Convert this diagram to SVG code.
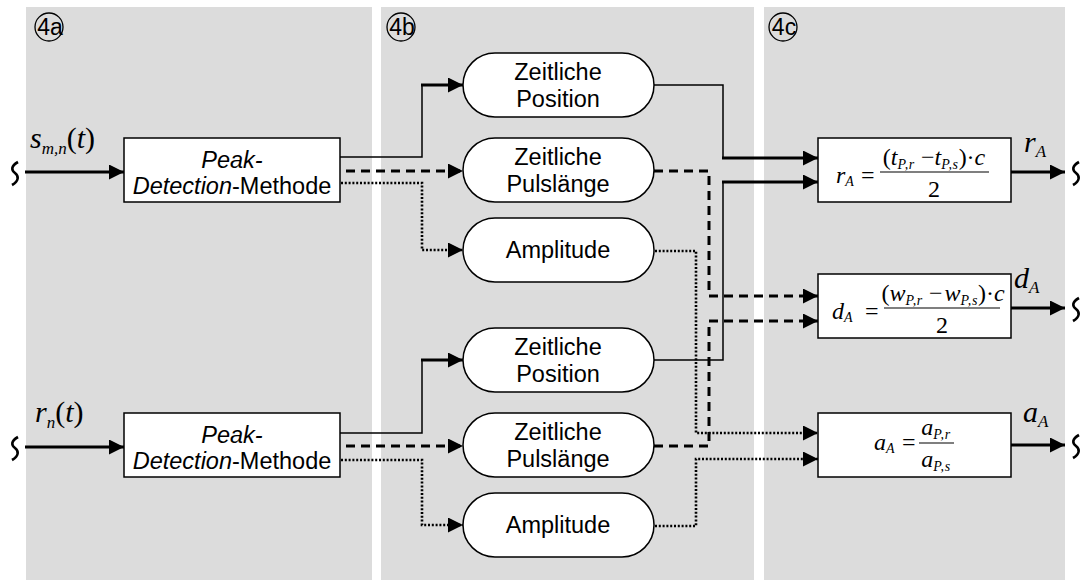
<svg xmlns="http://www.w3.org/2000/svg" xmlns:xlink="http://www.w3.org/1999/xlink" width="1083" height="580" viewBox="0 0 1083 580">
  <style>
    .panel { fill: #dcdcdc; }
    .mark { fill: none; stroke: #000; stroke-width: 1.3; }
    .marktxt { font-family: "Liberation Sans", Arial, sans-serif; font-size: 23px; text-anchor: middle; }
    .box { fill: #fff; stroke: #000; stroke-width: 1.5; }
    .lbl { font-family: "Liberation Sans", Arial, sans-serif; font-size: 23.5px; text-anchor: middle; }
    .it { font-style: italic; }
    .m { font-family: "Liberation Serif", "Times New Roman", serif; font-size: 24px; }
    .mo { font-family: "Liberation Serif", "Times New Roman", serif; font-size: 30px; }
    .i { font-style: italic; }
    .sub { font-size: 14px; font-style: italic; letter-spacing: 0.6px; }
    .subo { font-size: 17px; font-style: italic; }
    .thin { fill: none; stroke: #000; stroke-width: 1.5; }
    .thick { fill: none; stroke: #000; stroke-width: 3; }
    .dash { fill: none; stroke: #000; stroke-width: 3; stroke-dasharray: 9 6; }
    .dot { fill: none; stroke: #000; stroke-width: 2.6; stroke-dasharray: 2 1.8; }
    .frac { stroke: #000; stroke-width: 1.2; }
    .squig { fill: none; stroke: #000; stroke-width: 2.6; }
  </style>
  <defs>
    <marker id="arr" viewBox="0 0 15 15" refX="15" refY="7.5" markerWidth="15" markerHeight="15" markerUnits="userSpaceOnUse" orient="auto">
      <path d="M0,0 L15,7.5 L0,15 z" fill="#000"/>
    </marker>
    <path id="sq" d="M4,-11 C-3,-7 -3,-3 1,0 C5,3 5,8 -2,12"/>
  </defs>

  <!-- processing stages -->
  <g id="panels">
    <rect class="panel" x="26" y="7" width="346" height="573"/>
    <rect class="panel" x="381" y="7" width="373" height="573"/>
    <rect class="panel" x="764" y="7" width="301" height="573"/>
    <g id="mark-4a"><circle class="mark" cx="49" cy="27" r="14"/><text class="marktxt" x="50" y="35">4a</text></g>
    <g id="mark-4b"><circle class="mark" cx="401" cy="27" r="14"/><text class="marktxt" x="402" y="35">4b</text></g>
    <g id="mark-4c"><circle class="mark" cx="783" cy="27" r="14"/><text class="marktxt" x="784" y="35">4c</text></g>
  </g>

  <!-- inputs -->
  <g id="input-s">
    <use xlink:href="#sq" class="squig" transform="translate(14,173)"/>
    <text class="mo" x="30" y="148"><tspan class="i">s</tspan><tspan class="subo" dy="6">m,n</tspan><tspan dy="-6">(</tspan><tspan class="i">t</tspan>)</text>
  </g>
  <g id="input-r">
    <use xlink:href="#sq" class="squig" transform="translate(14,448)"/>
    <text class="mo" x="35" y="422"><tspan class="i">r</tspan><tspan class="subo" dy="6">n</tspan><tspan dy="-6">(</tspan><tspan class="i">t</tspan>)</text>
  </g>

  <!-- peak detection -->
  <g id="peak-1">
    <rect class="box" x="124" y="138" width="216" height="64"/>
    <text class="lbl" x="232" y="168"><tspan class="it">Peak-</tspan></text>
    <text class="lbl" x="232" y="194"><tspan class="it">Detection</tspan>-Methode</text>
  </g>
  <g id="peak-2">
    <rect class="box" x="124" y="413" width="216" height="64"/>
    <text class="lbl" x="232" y="443"><tspan class="it">Peak-</tspan></text>
    <text class="lbl" x="232" y="469"><tspan class="it">Detection</tspan>-Methode</text>
  </g>

  <!-- features -->
  <g id="pos-1">
    <rect class="box" x="463" y="53" width="191" height="64" rx="32"/>
    <text class="lbl" x="558" y="80">Zeitliche</text>
    <text class="lbl" x="558" y="107">Position</text>
  </g>
  <g id="len-1">
    <rect class="box" x="463" y="138" width="191" height="64" rx="32"/>
    <text class="lbl" x="558" y="165">Zeitliche</text>
    <text class="lbl" x="558" y="192">Pulslänge</text>
  </g>
  <g id="amp-1">
    <rect class="box" x="463" y="218" width="191" height="64" rx="32"/>
    <text class="lbl" x="558" y="258">Amplitude</text>
  </g>
  <g id="pos-2">
    <rect class="box" x="463" y="328" width="191" height="64" rx="32"/>
    <text class="lbl" x="558" y="355">Zeitliche</text>
    <text class="lbl" x="558" y="382">Position</text>
  </g>
  <g id="len-2">
    <rect class="box" x="463" y="413" width="191" height="64" rx="32"/>
    <text class="lbl" x="558" y="440">Zeitliche</text>
    <text class="lbl" x="558" y="467">Pulslänge</text>
  </g>
  <g id="amp-2">
    <rect class="box" x="463" y="493" width="191" height="64" rx="32"/>
    <text class="lbl" x="558" y="533">Amplitude</text>
  </g>

  <!-- results -->
  <g id="calc-r">
    <rect class="box" x="818" y="138" width="193" height="64"/>
    <text class="m" x="836" y="183"><tspan class="i">r</tspan><tspan class="sub" dy="3">A</tspan></text>
    <text class="m" x="861" y="183">=</text>
    <text class="m" x="934" y="165" text-anchor="middle">(<tspan class="i">t</tspan><tspan class="sub" dy="4">P,r</tspan><tspan dy="-4"> −</tspan><tspan class="i">t</tspan><tspan class="sub" dy="4">P,s</tspan><tspan dy="-4">)·</tspan><tspan class="i">c</tspan></text>
    <line class="frac" x1="880" y1="172" x2="989" y2="172"/>
    <text class="m" x="934" y="197" text-anchor="middle">2</text>
  </g>
  <g id="calc-d">
    <rect class="box" x="818" y="274" width="193" height="64"/>
    <text class="m" x="832" y="319"><tspan class="i">d</tspan><tspan class="sub" dy="3">A</tspan></text>
    <text class="m" x="865" y="319">=</text>
    <text class="m" x="943" y="301" text-anchor="middle">(<tspan class="i">w</tspan><tspan class="sub" dy="4">P,r</tspan><tspan dy="-4"> −</tspan><tspan class="i" dx="2">w</tspan><tspan class="sub" dy="4">P,s</tspan><tspan dy="-4">)·</tspan><tspan class="i">c</tspan></text>
    <line class="frac" x1="884" y1="308" x2="1000" y2="308"/>
    <text class="m" x="942" y="333" text-anchor="middle">2</text>
  </g>
  <g id="calc-a">
    <rect class="box" x="818" y="413" width="193" height="64"/>
    <text class="m" x="874" y="450"><tspan class="i">a</tspan><tspan class="sub" dy="3">A</tspan></text>
    <text class="m" x="902" y="450">=</text>
    <text class="m" x="936" y="435" text-anchor="middle"><tspan class="i">a</tspan><tspan class="sub" dy="4">P,r</tspan></text>
    <line class="frac" x1="919" y1="443" x2="954" y2="443"/>
    <text class="m" x="936" y="467" text-anchor="middle"><tspan class="i">a</tspan><tspan class="sub" dy="4">P,s</tspan></text>
  </g>

  <!-- outputs -->
  <g id="out-r">
    <text class="mo" x="1024" y="152"><tspan class="i">r</tspan><tspan class="subo" dy="5">A</tspan></text>
    <use xlink:href="#sq" class="squig" transform="translate(1075,173)"/>
  </g>
  <g id="out-d">
    <text class="mo" x="1014" y="288"><tspan class="i">d</tspan><tspan class="subo" dy="5">A</tspan></text>
    <use xlink:href="#sq" class="squig" transform="translate(1075,309)"/>
  </g>
  <g id="out-a">
    <text class="mo" x="1023" y="422"><tspan class="i">a</tspan><tspan class="subo" dy="5">A</tspan></text>
    <use xlink:href="#sq" class="squig" transform="translate(1075,446)"/>
  </g>

  <!-- connectors -->
  <g id="connectors">
    <!-- inputs into peak detection -->
    <path class="thick" d="M25,172 H124" marker-end="url(#arr)"/>
    <path class="thick" d="M25,447 H124" marker-end="url(#arr)"/>

    <!-- peak detection 1 to features -->
    <path class="thin" d="M340,157 H422 V85"/>
    <path class="thick" d="M421,85 H463" marker-end="url(#arr)"/>
    <path class="dash" d="M346,171 H463" marker-end="url(#arr)"/>
    <path class="dot" d="M341,183 H422 V250 H463" marker-end="url(#arr)"/>

    <!-- peak detection 2 to features -->
    <path class="thin" d="M340,433 H422 V360"/>
    <path class="thick" d="M421,360 H463" marker-end="url(#arr)"/>
    <path class="dash" d="M346,446 H463" marker-end="url(#arr)"/>
    <path class="dot" d="M341,460 H422 V525 H463" marker-end="url(#arr)"/>

    <!-- position to range -->
    <path class="thin" d="M654,85 H723 V158"/>
    <path class="thick" d="M722,158 H818" marker-end="url(#arr)"/>
    <path class="thin" d="M654,360 H723 V182"/>
    <path class="thick" d="M722,182 H818" marker-end="url(#arr)"/>

    <!-- pulse length to width -->
    <path class="dash" d="M654,171 H709 V296 H818" marker-end="url(#arr)"/>
    <path class="dash" d="M654,446 H709 V321 H818" marker-end="url(#arr)"/>

    <!-- amplitude to ratio -->
    <path class="dot" d="M655,251 H696 V433 H818" marker-end="url(#arr)"/>
    <path class="dot" d="M655,526 H696 V459 H818" marker-end="url(#arr)"/>

    <!-- results out -->
    <path class="thick" d="M1011,172 H1065" marker-end="url(#arr)"/>
    <path class="thick" d="M1011,308 H1065" marker-end="url(#arr)"/>
    <path class="thick" d="M1011,445 H1065" marker-end="url(#arr)"/>
  </g>
</svg>
